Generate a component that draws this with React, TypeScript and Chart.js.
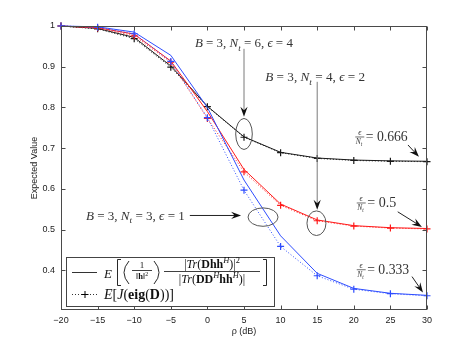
import React, { useEffect, useRef } from "react";
import { Chart, registerables } from "chart.js";
Chart.register(...registerables);

// ---------- data ----------
const rho = [-20, -15, -10, -5, 0, 5, 10, 15, 20, 25, 30];
const theoryNt6 = [1, 0.994, 0.972, 0.902, 0.803, 0.728, 0.69, 0.676, 0.671, 0.669, 0.668];
const simNt6 = [1, 0.993, 0.969, 0.899, 0.802, 0.727, 0.689, 0.675, 0.67, 0.668, 0.667];
const theoryNt4 = [1, 0.996, 0.98, 0.914, 0.79, 0.648, 0.563, 0.524, 0.51, 0.505, 0.503];
const simNt4 = [1, 0.995, 0.976, 0.911, 0.773, 0.642, 0.56, 0.522, 0.509, 0.504, 0.502];
const theoryNt3 = [1, 0.998, 0.985, 0.928, 0.8, 0.622, 0.485, 0.393, 0.356, 0.344, 0.339];
const simNt3 = [1, 0.997, 0.981, 0.913, 0.775, 0.597, 0.459, 0.387, 0.354, 0.343, 0.338];
const xTicks = [-20, -15, -10, -5, 0, 5, 10, 15, 20, 25, 30];
const yTicks = [0.4, 0.5, 0.6, 0.7, 0.8, 0.9, 1];
const yTickLabels = ["0.4", "0.5", "0.6", "0.7", "0.8", "0.9", "1"];
const xTitle = "ρ (dB)";
const yTitle = "Expected Value";

// ---------- annotations (data coordinates) ----------
const paramNotes = [
  { B: 3, Nt: 6, eps: 4, x: -1.7, y: 0.958, width: 98 },
  { B: 3, Nt: 4, eps: 2, x: 7.9, y: 0.875, width: 100 },
  { B: 3, Nt: 3, eps: 1, x: -16.6, y: 0.535, width: 99 },
];
const ratioNotes = [
  { value: "0.666", x: 20.2, y: 0.728, width: 42 },
  { value: "0.5", x: 20.4, y: 0.566, width: 29 },
  { value: "0.333", x: 20.4, y: 0.402, width: 42 },
];
const arrowNotes = [
  { x0: 5, y0: 0.944, x1: 5, y1: 0.777, color: "#7a7a7a" },
  { x0: 15, y0: 0.863, x1: 15, y1: 0.549, color: "#7a7a7a" },
  { x0: -2.4, y0: 0.535, x1: 4.6, y1: 0.535, color: "#222" },
  { x0: 27.4, y0: 0.708, x1: 28.9, y1: 0.679, color: "#222" },
  { x0: 26.0, y0: 0.544, x1: 29.3, y1: 0.507, color: "#222" },
  { x0: 27.95, y0: 0.385, x1: 29.45, y1: 0.346, color: "#222" },
];
const ellipseNotes = [
  { x: 5, y: 0.735, rx: 8.3, ry: 15.5 },
  { x: 14.9, y: 0.516, rx: 9.5, ry: 12.3 },
  { x: 7.6, y: 0.531, rx: 15, ry: 9.2 },
];

// ---------- math text helpers ----------
type Seg = { t: string; it?: boolean; bf?: boolean; sub?: boolean; sup?: boolean };
const SERIF = '"Liberation Serif", "DejaVu Serif", serif';
const SANS = '"Liberation Sans", Arial, sans-serif';
function segFont(s: Seg, size: number) {
  const fs = s.sub || s.sup ? size * 0.7 : size;
  return `${s.it ? "italic " : ""}${s.bf ? "bold " : ""}${fs}px ${SERIF}`;
}
function measureSegs(ctx: CanvasRenderingContext2D, segs: Seg[], size: number) {
  let w = 0;
  for (const s of segs) {
    ctx.font = segFont(s, size);
    w += ctx.measureText(s.t).width;
  }
  return w;
}
function drawSegs(ctx: CanvasRenderingContext2D, segs: Seg[], x: number, y: number, size: number) {
  let cx = x;
  for (const s of segs) {
    ctx.font = segFont(s, size);
    const dy = s.sub ? size * 0.28 : s.sup ? -size * 0.4 : 0;
    ctx.fillText(s.t, cx, y + dy);
    cx += ctx.measureText(s.t).width;
  }
  return cx - x;
}
function fitSize(ctx: CanvasRenderingContext2D, segs: Seg[], target: number) {
  return (10 * target) / measureSegs(ctx, segs, 10);
}
function paramSegs(B: number, Nt: number, eps: number): Seg[] {
  return [
    { t: "B", it: true },
    { t: ` = ${B}, ` },
    { t: "N", it: true },
    { t: "t", it: true, sub: true },
    { t: ` = ${Nt}, ` },
    { t: "ϵ", it: true },
    { t: ` = ${eps}` },
  ];
}
function arrowHead(ctx: CanvasRenderingContext2D, x0: number, y0: number, x1: number, y1: number) {
  const a = Math.atan2(y1 - y0, x1 - x0);
  const L = 10, W = 3.6, N = 6.5;
  const c = Math.cos(a), s = Math.sin(a);
  const px = (u: number, v: number) => [x1 - u * c - v * -s, y1 - u * s - v * c];
  ctx.beginPath();
  const p1 = px(L, W);
  const p2 = px(N, 0);
  const p3 = px(L, -W);
  ctx.moveTo(x1, y1);
  ctx.lineTo(p1[0], p1[1]);
  ctx.lineTo(p2[0], p2[1]);
  ctx.lineTo(p3[0], p3[1]);
  ctx.closePath();
  ctx.fillStyle = "#111";
  ctx.fill();
}

const decorPlugin = {
  id: "decor",
  afterDraw(chart: any) {
    const ctx: CanvasRenderingContext2D = chart.ctx;
    const ca = chart.chartArea;
    const xs = chart.scales.x;
    const ys = chart.scales.y;
    ctx.save();
    // axes box and inward ticks
    ctx.strokeStyle = "#4a4a4a";
    ctx.lineWidth = 1;
    const L = Math.round(ca.left) + 0.5, R = Math.round(ca.right) - 0.5;
    const T = Math.round(ca.top) + 0.5, Bt = Math.round(ca.bottom) - 0.5;
    ctx.strokeRect(L, T, R - L, Bt - T);
    ctx.beginPath();
    for (const v of xTicks) {
      const p = Math.round(xs.getPixelForValue(v)) + 0.5;
      ctx.moveTo(p, Bt); ctx.lineTo(p, Bt - 4);
      ctx.moveTo(p, T); ctx.lineTo(p, T + 4);
    }
    for (const v of yTicks) {
      const p = Math.round(ys.getPixelForValue(v)) + 0.5;
      ctx.moveTo(L, p); ctx.lineTo(L + 4, p);
      ctx.moveTo(R, p); ctx.lineTo(R - 4, p);
    }
    ctx.stroke();

    // axis titles
    ctx.fillStyle = "#222";
    ctx.font = `9px ${SANS}`;
    ctx.textAlign = "center";
    ctx.textBaseline = "middle";
    ctx.fillText(xTitle, (ca.left + ca.right) / 2, 332);
    ctx.save();
    ctx.translate(35, (ca.top + ca.bottom) / 2);
    ctx.rotate(-Math.PI / 2);
    ctx.fillText(yTitle, 0, 0);
    ctx.restore();

    // ellipses
    ctx.strokeStyle = "#555";
    ctx.lineWidth = 1;
    for (const e of ellipseNotes) {
      ctx.beginPath();
      ctx.ellipse(xs.getPixelForValue(e.x), ys.getPixelForValue(e.y), e.rx, e.ry, 0, 0, Math.PI * 2);
      ctx.stroke();
    }
    // arrows
    for (const a of arrowNotes) {
      const x0 = xs.getPixelForValue(a.x0), y0 = ys.getPixelForValue(a.y0);
      const x1 = xs.getPixelForValue(a.x1), y1 = ys.getPixelForValue(a.y1);
      ctx.strokeStyle = a.color;
      ctx.lineWidth = 1;
      ctx.beginPath();
      ctx.moveTo(x0, y0);
      const ang = Math.atan2(y1 - y0, x1 - x0);
      ctx.lineTo(x1 - 6 * Math.cos(ang), y1 - 6 * Math.sin(ang));
      ctx.stroke();
      arrowHead(ctx, x0, y0, x1, y1);
    }

    // text notes
    ctx.textAlign = "left";
    ctx.textBaseline = "alphabetic";
    ctx.fillStyle = "#333";
    for (const n of paramNotes) {
      const segs = paramSegs(n.B, n.Nt, n.eps);
      const size = fitSize(ctx, segs, n.width);
      drawSegs(ctx, segs, xs.getPixelForValue(n.x), ys.getPixelForValue(n.y) + size * 0.33, size);
    }
    for (const n of ratioNotes) {
      const x = xs.getPixelForValue(n.x), cy = ys.getPixelForValue(n.y);
      ctx.font = `italic 8px ${SERIF}`;
      ctx.textAlign = "center";
      ctx.fillText("ϵ", x + 4.5, cy - 1.5);
      ctx.fillRect(x, cy - 0.2, 9, 0.7);
      ctx.textAlign = "left";
      drawSegs(ctx, [{ t: "N", it: true }, { t: "t", it: true, sub: true }], x + 0.5, cy + 7, 7.5);
      const segs: Seg[] = [{ t: `= ${n.value}` }];
      const size = fitSize(ctx, segs, n.width);
      drawSegs(ctx, segs, x + 10.5, cy + 4, size);
    }

    // legend
    const bx = ca.left + 5, bw = 208, bh = 49;
    const by = ca.bottom - 4 - bh;
    ctx.fillStyle = "#fff";
    ctx.fillRect(bx, by, bw, bh);
    ctx.strokeStyle = "#444";
    ctx.lineWidth = 1;
    ctx.strokeRect(Math.round(bx) + 0.5, Math.round(by) + 0.5, bw, bh);
    // samples
    ctx.strokeStyle = "#333";
    ctx.beginPath();
    ctx.moveTo(bx + 6, by + 15.5);
    ctx.lineTo(bx + 31, by + 15.5);
    ctx.stroke();
    ctx.setLineDash([1, 2]);
    ctx.beginPath();
    ctx.moveTo(bx + 6, by + 37.5);
    ctx.lineTo(bx + 31, by + 37.5);
    ctx.stroke();
    ctx.setLineDash([]);
    ctx.strokeStyle = "#000";
    ctx.beginPath();
    ctx.moveTo(bx + 15.5, by + 37.5); ctx.lineTo(bx + 22.5, by + 37.5);
    ctx.moveTo(bx + 19, by + 34); ctx.lineTo(bx + 19, by + 41);
    ctx.stroke();

    ctx.fillStyle = "#111";
    ctx.strokeStyle = "#111";
    ctx.lineWidth = 0.9;
    drawSegs(ctx, [{ t: "E", it: true }], bx + 38, by + 20.5, 13);
    // [
    ctx.beginPath();
    ctx.moveTo(bx + 55, by + 2.5); ctx.lineTo(bx + 51.5, by + 2.5);
    ctx.lineTo(bx + 51.5, by + 28.5); ctx.lineTo(bx + 55, by + 28.5);
    ctx.stroke();
    // (
    ctx.beginPath();
    ctx.moveTo(bx + 63, by + 4);
    ctx.quadraticCurveTo(bx + 53, by + 15.5, bx + 63, by + 27);
    ctx.stroke();
    // 1/||h||^2
    ctx.textAlign = "center";
    ctx.font = `9px ${SERIF}`;
    ctx.fillText("1", bx + 76, by + 10.5);
    ctx.fillRect(bx + 66, by + 13, 20, 0.8);
    ctx.textAlign = "left";
    const hSegs: Seg[] = [{ t: "‖" }, { t: "h", bf: true }, { t: "‖" }, { t: "2", sup: true }];
    const hw = measureSegs(ctx, hSegs, 8.5);
    drawSegs(ctx, hSegs, bx + 76 - hw / 2, by + 22, 8.5);
    // )
    ctx.beginPath();
    ctx.moveTo(bx + 88, by + 4);
    ctx.quadraticCurveTo(bx + 98, by + 15.5, bx + 88, by + 27);
    ctx.stroke();
    // big fraction
    const num: Seg[] = [
      { t: "|" }, { t: "Tr", it: true }, { t: "(" }, { t: "Dhh", bf: true }, { t: "H", it: true, sup: true },
      { t: ")|" }, { t: "2", sup: true },
    ];
    const den: Seg[] = [
      { t: "|" }, { t: "Tr", it: true }, { t: "(" }, { t: "DD", bf: true }, { t: "H", it: true, sup: true },
      { t: "hh", bf: true }, { t: "H", it: true, sup: true }, { t: ")|" },
    ];
    const fsz = Math.min(fitSize(ctx, den, 94), 12);
    const nw = measureSegs(ctx, num, fsz), dw = measureSegs(ctx, den, fsz);
    const fc = bx + 146;
    drawSegs(ctx, num, fc - nw / 2, by + 11, fsz);
    ctx.fillRect(bx + 98, by + 14, 96, 0.8);
    drawSegs(ctx, den, fc - dw / 2, by + 25.5, fsz);
    // ]
    ctx.beginPath();
    ctx.moveTo(bx + 197, by + 2.5); ctx.lineTo(bx + 200.5, by + 2.5);
    ctx.lineTo(bx + 200.5, by + 28.5); ctx.lineTo(bx + 197, by + 28.5);
    ctx.stroke();
    // row 2
    const row2: Seg[] = [
      { t: "E", it: true }, { t: "[" }, { t: "J", it: true }, { t: "(" }, { t: "eig", bf: true },
      { t: "(" }, { t: "D", bf: true }, { t: "))]" },
    ];
    const r2 = Math.min(fitSize(ctx, row2, 85), 14);
    drawSegs(ctx, row2, bx + 38, by + 42, r2);
    ctx.restore();
  },
};

function pts(arr: number[]) {
  return rho.map((x, i) => ({ x, y: arr[i] }));
}

const BLACK = "#1a1a1a";
const RED = "#ff1a1a";
const BLUE = "#2e4dff";

export default function App() {
  const ref = useRef<HTMLCanvasElement>(null);
  useEffect(() => {
    const canvas = ref.current!;
    const theory = (data: number[], color: string) => ({
      data: pts(data),
      borderColor: color,
      backgroundColor: color,
      borderWidth: 1,
      pointRadius: 0,
      tension: 0,
      clip: 6,
    });
    const sim = (data: number[], color: string) => ({
      data: pts(data),
      borderColor: color,
      backgroundColor: color,
      borderWidth: 1,
      borderDash: [1, 2],
      pointStyle: "cross",
      pointRadius: 3.5,
      pointBorderWidth: 1.2,
      pointBorderColor: color,
      tension: 0,
      clip: 6,
    });
    const chart = new Chart(canvas, {
      type: "line",
      data: {
        datasets: [
          theory(theoryNt3, BLUE),
          sim(simNt3, BLUE),
          theory(theoryNt4, RED),
          sim(simNt4, RED),
          theory(theoryNt6, BLACK),
          sim(simNt6, BLACK),
        ] as any,
      },
      options: {
        responsive: false,
        devicePixelRatio: 1,
        animation: false,
        layout: { padding: { left: 0, right: 44, top: 26, bottom: 0 } },
        plugins: { legend: { display: false }, tooltip: { enabled: false }, title: { display: false } },
        scales: {
          x: {
            type: "linear",
            min: -20,
            max: 30,
            grid: { display: false, drawTicks: false, tickLength: 0 },
            border: { display: false },
            afterBuildTicks: (s: any) => {
              s.ticks = xTicks.map((v) => ({ value: v }));
            },
            afterFit: (s: any) => {
              s.height = 40;
            },
            ticks: {
              padding: 5,
              color: "#222",
              font: { family: "Liberation Sans", size: 9 },
              maxRotation: 0,
              autoSkip: false,
              callback: (v: any) => String(v).replace("-", "\u2212"),
            },
          },
          y: {
            type: "linear",
            min: 0.303,
            max: 1,
            grid: { display: false, drawTicks: false, tickLength: 0 },
            border: { display: false },
            afterBuildTicks: (s: any) => {
              s.ticks = yTicks.map((v) => ({ value: v }));
            },
            afterFit: (s: any) => {
              s.width = 61;
            },
            ticks: {
              padding: 6,
              color: "#222",
              font: { family: "Liberation Sans", size: 9 },
              autoSkip: false,
              callback: (v: any) => {
                const i = yTicks.findIndex((t) => Math.abs(t - Number(v)) < 1e-6);
                return i >= 0 ? yTickLabels[i] : "";
              },
            },
          },
        },
      },
      plugins: [decorPlugin],
    } as any);
    return () => chart.destroy();
  }, []);
  return (
    <div style={{ position: "absolute", left: 0, top: 0, width: 471, height: 350, background: "#fff" }}>
      <canvas ref={ref} width={471} height={350} style={{ display: "block", width: 471, height: 350 }} />
    </div>
  );
}
